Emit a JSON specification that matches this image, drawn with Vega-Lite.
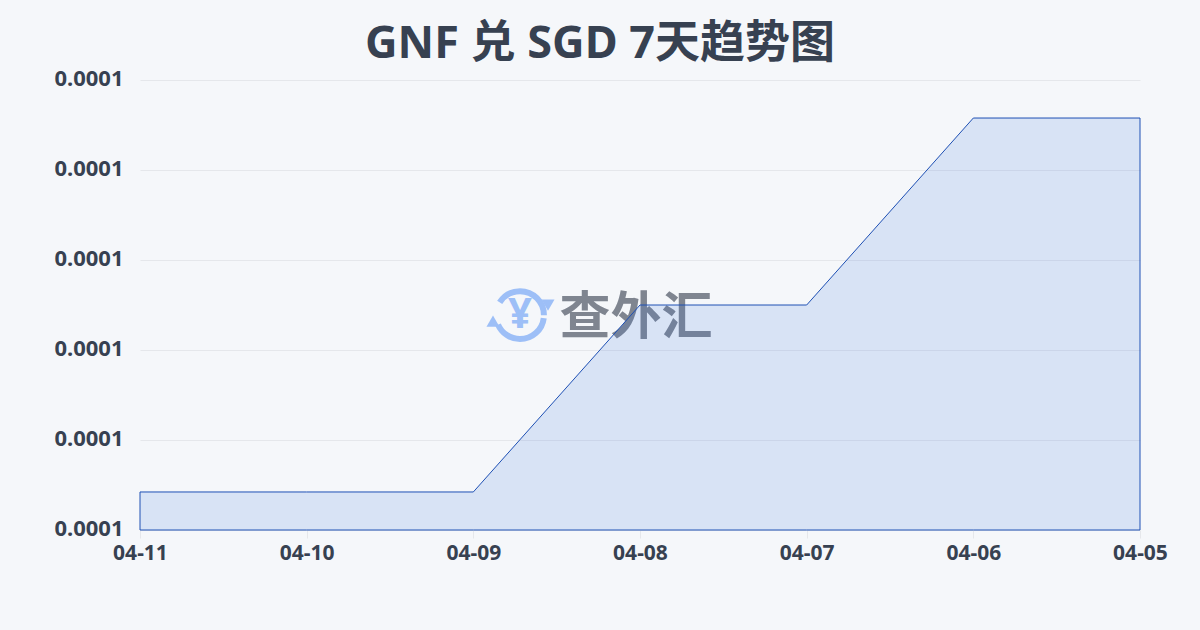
{"$schema":"https://vega.github.io/schema/vega-lite/v6.json","width":1000,"height":450,"padding":{"left":140,"top":80,"right":60,"bottom":100},"autosize":{"type":"none"},"background":"#f5f7fa","title":{"text":"GNF 兑 SGD 7天趋势图","font":"Noto Sans, Noto Sans CJK SC","fontSize":45,"fontWeight":"bold","color":"#374151","anchor":"middle","dx":-40,"offset":0},"data":{"values":[{"date":"04-11","value":0.00010338},{"date":"04-10","value":0.00010338},{"date":"04-09","value":0.00010338},{"date":"04-08","value":0.00012},{"date":"04-07","value":0.00012},{"date":"04-06","value":0.00013662},{"date":"04-05","value":0.00013662}]},"config":{"view":{"stroke":null}},"layer":[{"data":{"values":[{"date":"04-08","value":0.0001191,"label":"查外汇"}]},"mark":{"type":"text","font":"Noto Sans CJK SC","fontSize":51,"fontWeight":"bold","color":"#7f8590","xOffset":-4,"yOffset":4,"align":"center","baseline":"middle"},"encoding":{"x":{"field":"date","type":"ordinal","sort":["04-11","04-10","04-09","04-08","04-07","04-06","04-05"]},"y":{"field":"value","type":"quantitative"},"text":{"field":"label"}}},{"data":{"values":[{"date":"04-08","value":0.0001191,"label":"¥"}]},"mark":{"type":"text","font":"Noto Sans","fontSize":42,"fontWeight":"bold","color":"#9dbff7","xOffset":-120,"align":"center","baseline":"middle"},"encoding":{"x":{"field":"date","type":"ordinal","sort":["04-11","04-10","04-09","04-08","04-07","04-06","04-05"]},"y":{"field":"value","type":"quantitative"},"text":{"field":"label"}}},{"data":{"values":[{"date":"04-08","value":0.0001191}]},"mark":{"type":"point","shape":"circle","size":2290,"filled":false,"stroke":"#9dbff7","strokeWidth":6,"opacity":1,"strokeDash":[62,23],"strokeDashOffset":82,"xOffset":-120},"encoding":{"x":{"field":"date","type":"ordinal","sort":["04-11","04-10","04-09","04-08","04-07","04-06","04-05"]},"y":{"field":"value","type":"quantitative"}}},{"data":{"values":[{"date":"04-08","value":0.0001191}]},"mark":{"type":"point","shape":"triangle-down","size":170,"filled":true,"fill":"#9dbff7","opacity":1,"xOffset":-92,"yOffset":-10},"encoding":{"x":{"field":"date","type":"ordinal","sort":["04-11","04-10","04-09","04-08","04-07","04-06","04-05"]},"y":{"field":"value","type":"quantitative"}}},{"data":{"values":[{"date":"04-08","value":0.0001191}]},"mark":{"type":"point","shape":"triangle-up","size":170,"filled":true,"fill":"#9dbff7","opacity":1,"xOffset":-147,"yOffset":6},"encoding":{"x":{"field":"date","type":"ordinal","sort":["04-11","04-10","04-09","04-08","04-07","04-06","04-05"]},"y":{"field":"value","type":"quantitative"}}},{"mark":{"type":"area","color":"#3672df","fillOpacity":0.15,"stroke":"#1e50b4","strokeWidth":1},"encoding":{"x":{"field":"date","type":"ordinal","sort":["04-11","04-10","04-09","04-08","04-07","04-06","04-05"],"scale":{"type":"point","padding":0},"axis":{"title":null,"grid":false,"domain":false,"ticks":true,"tickColor":"#e5e7eb","tickSize":8,"labelAngle":0,"labelAlign":"center","labelBaseline":"middle","labelFlush":false,"labelFont":"Noto Sans","labelFontSize":21,"labelFontWeight":"bold","labelColor":"#374151","labelPadding":15}},"y":{"field":"value","type":"quantitative","scale":{"domain":[0.0001,0.00014],"nice":false,"zero":false},"axis":{"title":null,"values":[0.0001,0.000108,0.000116,0.000124,0.000132,0.00014],"format":".4f","grid":true,"gridColor":"#e5e7eb","gridWidth":1,"domain":false,"ticks":false,"labelFont":"Noto Sans","labelFontSize":22,"labelFontWeight":"bold","labelColor":"#374151","labelPadding":17,"labelOffset":-2}},"y2":{"datum":0.0001}}}]}
